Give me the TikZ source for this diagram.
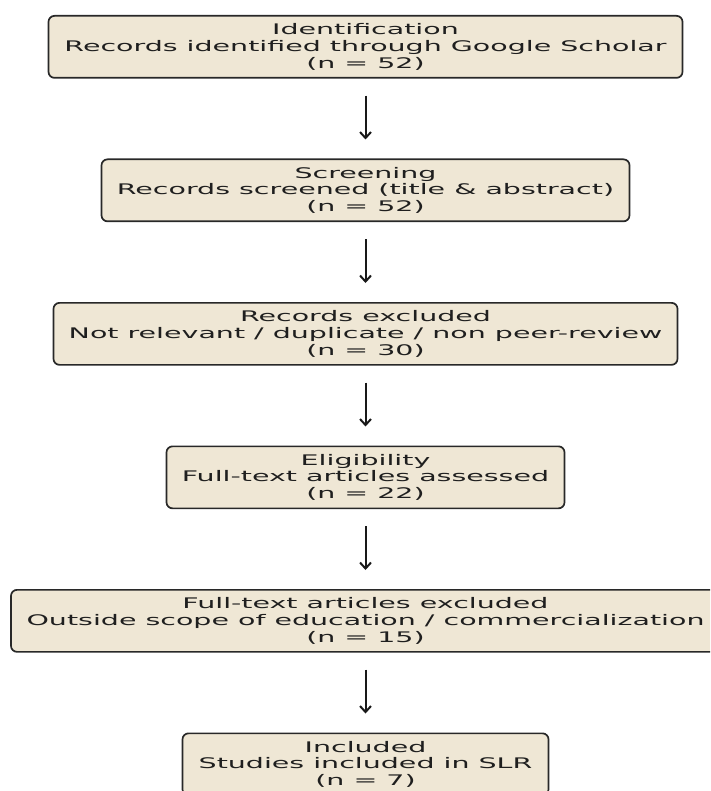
\documentclass[tikz,border=0pt]{standalone}
\usepackage{fontspec}
\usetikzlibrary{arrows.meta}
\newfontfamily\boxfont{DejaVu Sans}[FakeStretch=1.95]
\definecolor{boxfill}{RGB}{239,231,213}
\definecolor{boxline}{RGB}{40,40,40}
\tikzset{
  flowbox/.style={draw=boxline, fill=boxfill, line width=1.7pt, rounded corners=6pt,
    minimum height=62pt, anchor=north, align=center, inner sep=0pt,
    font=\boxfont\fontsize{14.6}{16.6}\selectfont, text=black!88},
  flowarrow/.style={draw=black!90, line width=2pt, -{Straight Barb[length=6pt,width=11pt]},
    shorten <=17pt, shorten >=19pt}
}
\begin{document}
\begin{tikzpicture}[x=1pt,y=-1pt]
\useasboundingbox (0,0) rectangle (710,791);
\clip (0,0) rectangle (710,791);
\node[flowbox, minimum width=634pt] (b1) at (365.5,15) {Identification\\Records identified through Google Scholar\\(n = 52)};
\node[flowbox, minimum width=528pt] (b2) at (365.5,158.5) {Screening\\Records screened (title \& abstract)\\(n = 52)};
\node[flowbox, minimum width=624pt] (b3) at (365.5,302) {Records excluded\\Not relevant / duplicate / non peer-review\\(n = 30)};
\node[flowbox, minimum width=398pt] (b4) at (365.5,445.5) {Eligibility\\Full-text articles assessed\\(n = 22)};
\node[flowbox, minimum width=709pt] (b5) at (365.5,589) {Full-text articles excluded\\Outside scope of education / commercialization\\(n = 15)};
\node[flowbox, minimum width=366pt] (b6) at (365.5,732.5) {Included\\Studies included in SLR\\(n = 7)};
\draw[flowarrow] (b1.south) -- (b2.north);
\draw[flowarrow] (b2.south) -- (b3.north);
\draw[flowarrow] (b3.south) -- (b4.north);
\draw[flowarrow] (b4.south) -- (b5.north);
\draw[flowarrow] (b5.south) -- (b6.north);
\end{tikzpicture}
\end{document}
